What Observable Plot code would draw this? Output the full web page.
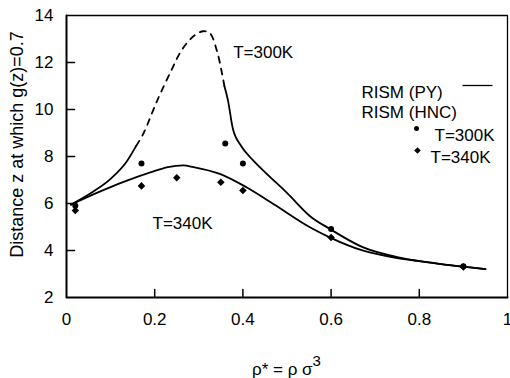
<!DOCTYPE html>
<html><head><meta charset="utf-8">
<script src="https://cdn.jsdelivr.net/npm/d3@7"></script>
<script src="https://cdn.jsdelivr.net/npm/@observablehq/plot@0.6"></script>
<style>
html,body{margin:0;padding:0;background:#fff;}
#xlabel{height:30px;font-family:"Liberation Sans",Arial,sans-serif;font-size:17px;line-height:30px;margin-left:252px;white-space:nowrap;color:#000;}
#xlabel sup{font-size:15px;position:relative;top:-2px;}
</style></head><body>
<div id="chart"></div>
<div id="xlabel">ρ* = ρ σ<sup>3</sup></div>
<script>
// Axis domains and ticks
const xDomain = [0, 1];
const yDomain = [2, 14];
const xTicks = [0, 0.2, 0.4, 0.6, 0.8, 1];
const yTicks = [2, 4, 6, 8, 10, 12, 14];

// RISM (PY) T=300K, solid part before the dashed region
const pyA300X = [0.01, 0.06, 0.10, 0.137, 0.158];
const pyA300Y = [5.95, 6.50, 7.05, 7.80, 8.45];
// RISM (PY) T=300K, dashed region
const pyDash300X = [0.158, 0.175, 0.205, 0.236, 0.262, 0.29, 0.31, 0.325, 0.341, 0.353, 0.358];
const pyDash300Y = [8.45, 9.00, 10.35, 11.60, 12.55, 13.15, 13.33, 13.25, 12.50, 11.50, 11.00];
// RISM (PY) T=300K, solid part after the dashed region
const pyB300X = [0.358, 0.366, 0.377, 0.396, 0.42, 0.447, 0.50, 0.553, 0.598, 0.673, 0.75, 0.80, 0.90, 0.95];
const pyB300Y = [11.00, 10.40, 9.20, 8.45, 7.90, 7.39, 6.45, 5.45, 4.91, 4.13, 3.72, 3.55, 3.31, 3.21];
// RISM (PY) T=340K
const py340X = [0.01, 0.062, 0.10, 0.137, 0.19, 0.23, 0.265, 0.288, 0.349, 0.409, 0.47, 0.553, 0.598, 0.673, 0.75, 0.80, 0.90, 0.95];
const py340Y = [5.95, 6.40, 6.70, 6.97, 7.32, 7.55, 7.62, 7.55, 7.25, 6.68, 5.97, 4.98, 4.55, 3.99, 3.68, 3.55, 3.31, 3.21];

// RISM (HNC) points
const hnc300X = [0.02, 0.17, 0.36, 0.40, 0.60, 0.90];
const hnc300Y = [5.90, 7.70, 8.55, 7.70, 4.91, 3.33];
const hnc340X = [0.02, 0.17, 0.25, 0.35, 0.40, 0.60, 0.90];
const hnc340Y = [5.70, 6.75, 7.10, 6.90, 6.55, 4.55, 3.30];

// Annotations
const noteText = ["T=300K", "T=340K"];
const noteX = [0.378, 0.195];
const noteY = [12.41, 5.14];

const zip = (xs, ys) => xs.map((x, i) => ({x, y: ys[i]}));
const ink = "black";

// layout
const W = 510, H = 348, mT = 15, mL = 66, mR = 3, mB = 51, tickPx = 8;
const tickLenY = tickPx * (yDomain[1] - yDomain[0]) / (H - mT - mB);
const tickLenX = tickPx * (xDomain[1] - xDomain[0]) / (W - mL - mR);
const [x0, x1] = xDomain, [y0, y1] = yDomain;

// frame and inward ticks built from the domains and tick arrays
const frameLB = [{x: x0, y: y1}, {x: x0, y: y0}, {x: x1, y: y0}];
const frameTR = [{x: x0, y: y1}, {x: x1, y: y1}, {x: x1, y: y0}];
const xTickSegs = xTicks.slice(1, -1).flatMap(t => [{x: t, y: y0, k: t}, {x: t, y: y0 + tickLenY, k: t}]);
const yTickSegs = yTicks.slice(1, -1).flatMap(t => [{x: x0, y: t, k: t}, {x: x0 + tickLenX, y: t, k: t}]);

const chart = Plot.plot({
  width: W,
  height: H,
  marginTop: mT,
  marginLeft: mL,
  marginRight: mR,
  marginBottom: mB,
  style: {fontFamily: "'Liberation Sans', Arial, sans-serif", fontSize: "17px", background: "white", color: "black"},
  x: {domain: xDomain},
  y: {domain: yDomain},
  marks: [
    Plot.axisX(xTicks, {tickSize: 0, tickPadding: 15, tickFormat: d => String(d), label: null}),
    Plot.axisY(yTicks, {tickSize: 0, tickPadding: 13, tickFormat: d => String(d), label: null}),
    Plot.text(["Distance z at which g(z)=0.7"], {frameAnchor: "left", textAnchor: "middle", rotate: -90, dx: -49, dy: -12, fontSize: 18, fill: ink}),
    Plot.line(zip(pyA300X, pyA300Y), {x: "x", y: "y", curve: "monotone-x", stroke: ink, strokeWidth: 1.8}),
    Plot.line(zip(pyDash300X, pyDash300Y), {x: "x", y: "y", curve: "catmull-rom", stroke: ink, strokeWidth: 1.8, strokeDasharray: "6,6"}),
    Plot.line(zip(pyB300X, pyB300Y), {x: "x", y: "y", curve: "monotone-x", stroke: ink, strokeWidth: 1.8}),
    Plot.line(zip(py340X, py340Y), {x: "x", y: "y", curve: "monotone-x", stroke: ink, strokeWidth: 1.8}),
    Plot.dot(zip(hnc300X, hnc300Y), {x: "x", y: "y", r: 3, fill: ink, stroke: "none"}),
    Plot.dot(zip(hnc340X, hnc340Y), {x: "x", y: "y", r: 3.4, symbol: "diamond2", fill: ink, stroke: "none"}),
    Plot.text(noteText, {x: (d, i) => noteX[i], y: (d, i) => noteY[i], text: d => d, textAnchor: "start", fill: ink}),
    // legend
    Plot.text(["RISM (PY)"], {frameAnchor: "top-left", dx: 295, dy: 70, textAnchor: "start", fill: ink}),
    Plot.dot([0], {frameAnchor: "top-left", dx: 411, dy: 70, stroke: ink, strokeWidth: 1.3,
      symbol: {draw(ctx) { ctx.moveTo(-15, 0); ctx.lineTo(15, 0); }}}),
    Plot.text(["RISM (HNC)"], {frameAnchor: "top-left", dx: 295, dy: 90, textAnchor: "start", fill: ink}),
    Plot.dot([0], {frameAnchor: "top-left", dx: 350, dy: 113, r: 2.5, fill: ink, stroke: "none"}),
    Plot.text(["T=300K"], {frameAnchor: "top-left", dx: 368, dy: 113, textAnchor: "start", fill: ink}),
    Plot.dot([0], {frameAnchor: "top-left", dx: 351, dy: 135, r: 3, symbol: "diamond2", fill: ink, stroke: "none"}),
    Plot.text(["T=340K"], {frameAnchor: "top-left", dx: 364, dy: 135, textAnchor: "start", fill: ink}),
    // frame and inward ticks drawn last, on top
    Plot.line(frameTR, {x: "x", y: "y", stroke: ink, strokeWidth: 1.3}),
    Plot.line(frameLB, {x: "x", y: "y", stroke: ink, strokeWidth: 2}),
    Plot.line(xTickSegs, {x: "x", y: "y", z: "k", stroke: ink, strokeWidth: 1.5}),
    Plot.line(yTickSegs, {x: "x", y: "y", z: "k", stroke: ink, strokeWidth: 1.5})
  ]
});
document.getElementById("chart").append(chart);
</script>
</body></html>
